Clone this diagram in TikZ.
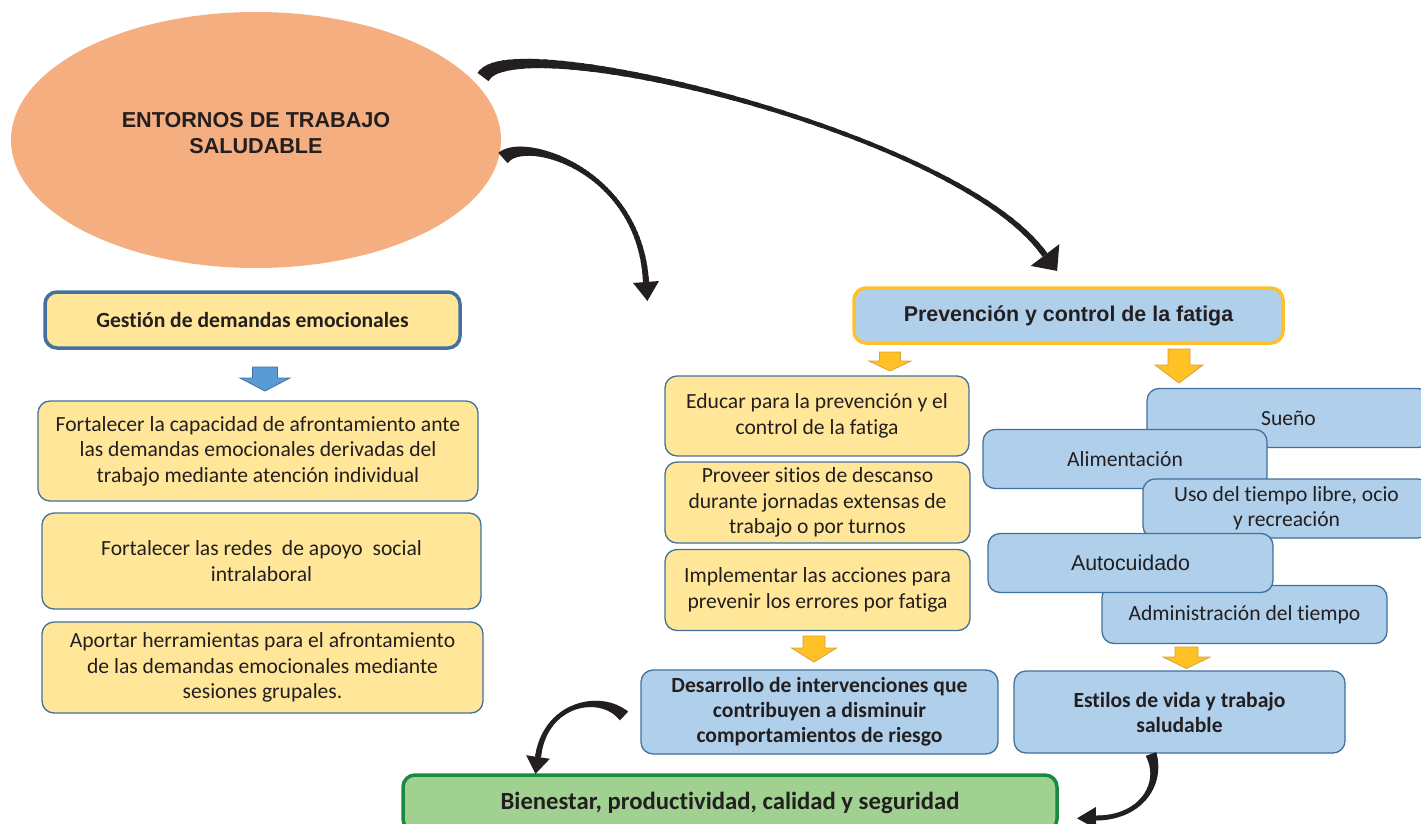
\documentclass[tikz,border=0pt]{standalone}
\usepackage{fontspec}
\setmainfont{Carlito}[Ligatures={NoCommon,NoRare,NoContextual},RawFeature={-liga;-clig;-dlig}]
\newfontfamily\arialf{Liberation Sans}
\usetikzlibrary{calc,shapes.geometric}
\definecolor{ellc}{HTML}{F5AE80}
\definecolor{yfill}{HTML}{FFE699}
\definecolor{bfill}{HTML}{AFCFEA}
\definecolor{bbord}{HTML}{41719C}
\definecolor{gfill}{HTML}{A0D191}
\definecolor{gbord}{HTML}{1A8A43}
\definecolor{ofill}{HTML}{FFC125}
\definecolor{obord}{HTML}{D9A22E}
\definecolor{pbord}{HTML}{FFC12B}
\definecolor{afill}{HTML}{5B9BD5}
\definecolor{txt}{HTML}{231F20}
% tapered curved arrow: S, c1, c2, E, w0, wmin, w1, head half width, head length
\newcommand\taperarrow[9]{%
  \foreach \i in {0,...,59}{%
    \pgfmathsetmacro\ta{\i/60}%
    \pgfmathsetmacro\tb{min(1,(\i+1.4)/60)}%
    \pgfmathsetmacro\tm{(\i+0.5)/60}%
    \pgfmathsetmacro\w{#6+(#5-#6)*(1-\tm)^3+(#7-#6)*\tm^3}%
    \path #1 .. controls #2 and #3 .. #4 coordinate[pos=\ta] (tpa) coordinate[pos=\tb] (tpb);
    \draw[txt, line width=\w pt, line cap=butt] (tpa) -- (tpb);
  }
  \path #1 .. controls #2 and #3 .. #4 coordinate[pos=0.98] (tph);
  \fill[txt] ($#4!#8pt!90:(tph)$) -- ($#4!#9pt!180:(tph)$) -- ($#4!#8pt!-90:(tph)$) -- cycle;
}
% block down arrow: cx, ytop, shaft half, head half, shaft len, head len, style
\newcommand\blockdown[7]{%
  \draw[#7] (#1-#3,#2) -- (#1+#3,#2) -- (#1+#3,#2+#5) -- (#1+#4,#2+#5) -- (#1,#2+#5+#6)
    -- (#1-#4,#2+#5) -- (#1-#3,#2+#5) -- cycle;
}
\begin{document}
\begin{tikzpicture}[x=1pt,y=-1pt,
  box/.style={draw=bbord, line width=1.3pt, rounded corners=12pt, align=center, inner sep=0pt,
    font=\fontsize{21.6}{25.5}\selectfont, text=txt},
  ybox/.style={box, fill=yfill},
  bbox/.style={box, fill=bfill},
  oarrow/.style={fill=ofill, draw=obord, line width=0.8pt},
  barrow/.style={fill=afill, draw=bbord, line width=0.8pt}]
\useasboundingbox (0,0) rectangle (1421,824);

% ellipse
\node[ellipse, fill=ellc, minimum width=490pt, minimum height=256pt, inner sep=0pt] (env) at (256,140) {};
\node[align=center, text=txt, font=\arialf\bfseries\fontsize{21.6}{26}\selectfont] (envt) at (256,133) {ENTORNOS DE TRABAJO\\SALUDABLE};

% curved arrows from ellipse
\coordinate (aS) at (483,77);
\coordinate (aE) at (1045,255);
\coordinate (bS) at (503,158);
\coordinate (bE) at (646,282);
\taperarrow{(aS)}{(510,25)}{(959,132)}{(aE)}{14}{3}{6}{18}{20}
\taperarrow{(bS)}{(525,135)}{(640,170)}{(bE)}{14}{3.5}{6}{13}{19}

% left column
\node[ybox, draw=bbord, line width=3.5pt, minimum width=415pt, minimum height=56pt, font=\bfseries\fontsize{21.6}{25.5}\selectfont] (gest) at (252.5,320) {Gestión de demandas emocionales};
\node[ybox, minimum width=440pt, minimum height=100pt] (b1) at (258,451) {Fortalecer la capacidad de afrontamiento ante\\las demandas emocionales derivadas del\\trabajo mediante atención individual};
\node[ybox, minimum width=439pt, minimum height=96pt] (b2) at (261.5,561) {Fortalecer las redes\ \ de apoyo\ \ social\\intralaboral};
\node[ybox, minimum width=441pt, minimum height=91pt] (b3) at (262.5,667.5) {Aportar herramientas para el afrontamiento\\de las demandas emocionales mediante\\sesiones grupales.};

% middle column
\node[bbox, draw=pbord, line width=3.5pt, minimum width=429pt, minimum height=55pt, font=\arialf\bfseries\fontsize{21.4}{25.5}\selectfont] (prev) at (1068.5,315.5) {Prevención y control de la fatiga};
\node[ybox, minimum width=304pt, minimum height=80pt] (edu) at (817,416) {Educar para la prevención y el\\control de la fatiga};
\node[ybox, minimum width=305pt, minimum height=81pt] (prov) at (817.5,502.5) {Proveer sitios de descanso\\durante jornadas extensas de\\trabajo o por turnos};
\node[ybox, minimum width=305pt, minimum height=81pt] (impl) at (817.5,590) {Implementar las acciones para\\prevenir los errores por fatiga};
\node[bbox, minimum width=357pt, minimum height=84pt, font=\bfseries\fontsize{21.6}{25}\selectfont] (desa) at (819.5,712) {Desarrollo de intervenciones que\\contribuyen a disminuir\\comportamientos de riesgo};

% right column (overlapping)
\node[bbox, minimum width=283pt, minimum height=59pt] (sueno) at (1288.5,418) {Sueño};
\node[bbox, minimum width=284pt, minimum height=59pt] (alim) at (1125,459) {Alimentación};
\node[bbox, minimum width=287pt, minimum height=59pt, font=\fontsize{21.6}{25}\selectfont] (uso) at (1286.5,508.5) {Uso del tiempo libre, ocio\\y recreación};
\node[bbox, minimum width=285pt, minimum height=58pt] (admin) at (1244.5,614.5) {Administración del tiempo};
\node[bbox, minimum width=285pt, minimum height=59pt, font=\arialf\fontsize{21.4}{25}\selectfont] (auto) at (1130.5,563) {Autocuidado};
\node[bbox, minimum width=331pt, minimum height=82pt, font=\bfseries\fontsize{21.6}{25}\selectfont] (est) at (1179.5,712) {Estilos de vida y trabajo\\saludable};

% bottom
\node[box, fill=gfill, draw=gbord, line width=3.5pt, minimum width=654pt, minimum height=56pt, font=\bfseries\fontsize{24.7}{29}\selectfont] (bien) at (730,803) {Bienestar, productividad, calidad y seguridad};

% block arrows
\blockdown{265}{367}{12.5}{25}{11}{13}{barrow}
\blockdown{890}{352}{10.5}{21}{9}{10}{oarrow}
\blockdown{1179}{349}{11}{24}{16}{18}{oarrow}
\blockdown{814}{636}{11}{22.5}{12}{14}{oarrow}
\blockdown{1186.5}{647}{11.5}{23.5}{10}{11.5}{oarrow}

% bottom curved arrows
\coordinate (cS) at (624,716);
\coordinate (cE) at (538,757);
\coordinate (dS) at (1151,754);
\coordinate (dE) at (1096,818);
\taperarrow{(cS)}{(600,692)}{(545,703)}{(cE)}{12}{3.5}{6}{12}{17}
\taperarrow{(dS)}{(1163,785)}{(1140,818)}{(dE)}{11}{4}{5}{11}{19}
\end{tikzpicture}
\end{document}
